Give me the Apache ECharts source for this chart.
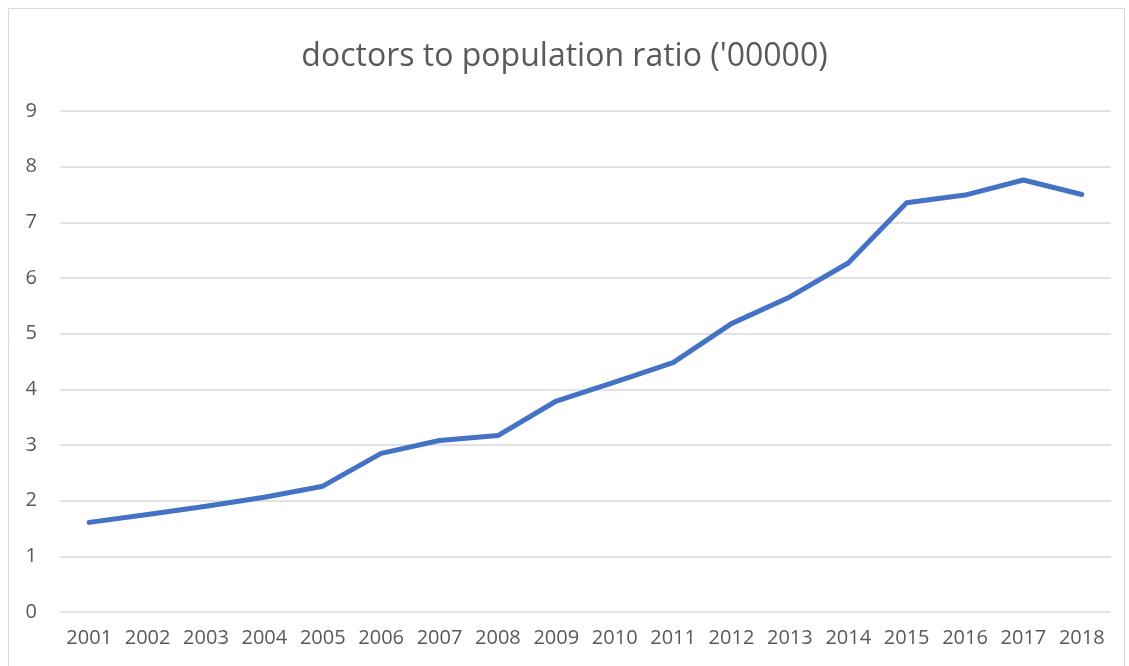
<!DOCTYPE html>
<html>
<head>
<meta charset="utf-8">
<script src="https://cdn.jsdelivr.net/npm/echarts@6/dist/echarts.min.js"></script>
<style>
  html, body { margin: 0; padding: 0; background: #fff; }
  #chart { width: 1129px; height: 666px; }
</style>
</head>
<body>
<div id="chart"></div>
<script>
var years = ['2001', '2002', '2003', '2004', '2005', '2006', '2007', '2008', '2009',
             '2010', '2011', '2012', '2013', '2014', '2015', '2016', '2017', '2018'];
var ratio = [1.61, 1.75, 1.90, 2.06, 2.26, 2.85, 3.08, 3.17, 3.79,
             4.13, 4.48, 5.18, 5.66, 6.27, 7.35, 7.49, 7.76, 7.50];
var yTicks = [0, 1, 2, 3, 4, 5, 6, 7, 8, 9];

var myChart = echarts.init(document.getElementById('chart'));
var txt = '#595959';
var option = {
    animation: false,
    title: {
        text: "doctors to population ratio ('00000)",
        left: 'center',
        top: 36,
        textStyle: { fontFamily: 'Open Sans', fontWeight: 'normal', fontSize: 32, color: txt }
    },
    graphic: [{
        type: 'rect',
        shape: { x: 8.5, y: 8.5, width: 1116, height: 670 },
        style: { fill: 'none', stroke: '#d9d9d9', lineWidth: 1 }
    }],
    grid: { left: 60, right: 18, top: 111, bottom: 54 },
    xAxis: {
        type: 'category',
        data: years,
        boundaryGap: true,
        axisLine: { show: false },
        axisTick: { show: false },
        axisLabel: { color: txt, fontSize: 20, fontFamily: 'Open Sans', margin: 16, interval: 0 }
    },
    yAxis: {
        type: 'value',
        min: yTicks[0],
        max: yTicks[yTicks.length - 1],
        interval: 1,
        axisLine: { show: false },
        axisTick: { show: false },
        axisLabel: { color: txt, fontSize: 20, fontFamily: 'Open Sans', margin: 23 },
        splitLine: { lineStyle: { color: '#d9d9d9', width: 1.5 } }
    },
    series: [{
        type: 'line',
        data: ratio,
        showSymbol: false,
        lineStyle: { color: '#4472C4', width: 5, cap: 'round', join: 'round' }
    }]
};
myChart.setOption(option);
</script>
</body>
</html>
